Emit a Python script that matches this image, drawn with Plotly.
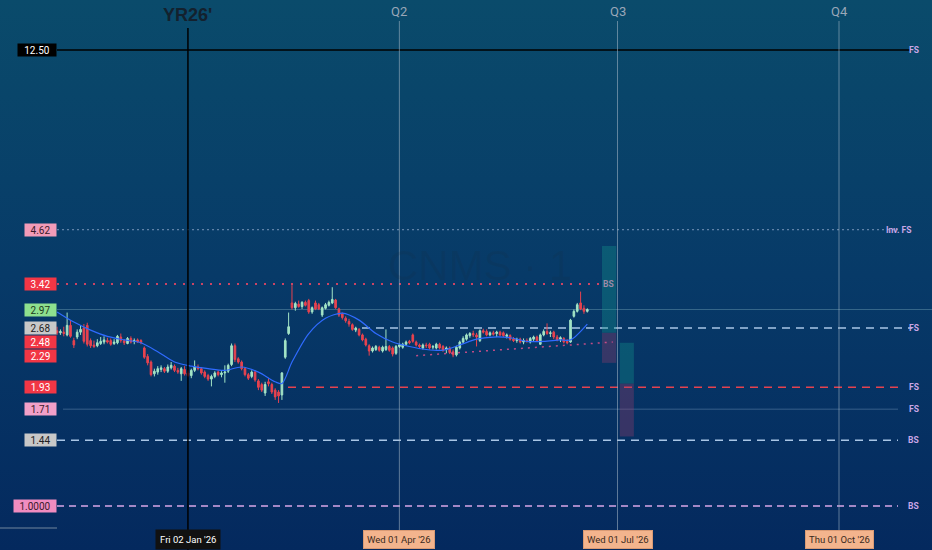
import base64
import numpy as np
import pandas as pd
import plotly.graph_objects as go

# daily bars (first bar Mon 10 Nov 2025)
first_bar = "2025-11-10"

opens = [2.64, 2.61, 2.62, 2.58, 2.72, 2.50, 2.55, 2.62, 2.68, 2.72,
         2.50, 2.44, 2.43, 2.46, 2.48, 2.50, 2.50, 2.46, 2.47, 2.55,
         2.50, 2.46, 2.53, 2.49, 2.51, 2.50, 2.40, 2.29, 2.22, 2.08,
         2.10, 2.13, 2.14, 2.11, 2.15, 2.17, 2.12, 2.08, 2.13, 2.09,
         2.06, 2.12, 2.16, 2.14, 2.10, 2.06, 2.02, 2.05, 2.10, 2.07,
         2.09, 2.11, 2.19, 2.43, 2.26, 2.22, 2.14, 2.07, 2.05, 2.10,
         2.00, 1.96, 1.87, 1.99, 1.96, 1.90, 1.88, 1.85, 2.28, 2.60,
         3.08, 3.00, 3.06, 3.02, 3.09, 3.12, 2.93, 3.08, 3.05, 2.88,
         2.99, 3.04, 3.08, 3.13, 2.98, 2.90, 2.83, 2.78, 2.73, 2.65,
         2.66, 2.58, 2.52, 2.43, 2.36, 2.38, 2.41, 2.36, 2.38, 2.42,
         2.40, 2.33, 2.42, 2.41, 2.45, 2.49, 2.58, 2.48, 2.44, 2.40,
         2.44, 2.45, 2.41, 2.40, 2.45, 2.42, 2.38, 2.40, 2.35, 2.31,
         2.40, 2.48, 2.52, 2.57, 2.60, 2.58, 2.50, 2.64, 2.63, 2.58,
         2.61, 2.60, 2.62, 2.61, 2.56, 2.57, 2.52, 2.50, 2.52, 2.48,
         2.50, 2.48, 2.52, 2.55, 2.45, 2.58, 2.63, 2.60, 2.62, 2.55,
         2.52, 2.53, 2.49, 2.48, 2.86, 2.94, 3.08, 2.99, 2.94]
highs = [2.70, 2.66, 2.70, 2.92, 2.80, 2.54, 2.66, 2.72, 2.74, 2.76,
         2.53, 2.50, 2.52, 2.55, 2.56, 2.54, 2.53, 2.52, 2.58, 2.60,
         2.52, 2.55, 2.56, 2.53, 2.53, 2.52, 2.42, 2.32, 2.24, 2.14,
         2.17, 2.18, 2.16, 2.19, 2.22, 2.19, 2.15, 2.16, 2.17, 2.12,
         2.14, 2.24, 2.19, 2.16, 2.12, 2.08, 2.07, 2.11, 2.12, 2.11,
         2.18, 2.20, 2.46, 2.46, 2.28, 2.24, 2.16, 2.09, 2.12, 2.12,
         2.02, 1.98, 1.99, 2.03, 1.98, 1.92, 1.90, 2.10, 2.53, 2.92,
         3.40, 3.10, 3.12, 3.11, 3.12, 3.15, 3.02, 3.12, 3.08, 3.02,
         3.08, 3.12, 3.36, 3.15, 3.00, 2.92, 2.86, 2.82, 2.75, 2.70,
         2.68, 2.60, 2.54, 2.45, 2.42, 2.44, 2.43, 2.43, 2.66, 2.44,
         2.42, 2.44, 2.46, 2.47, 2.50, 2.51, 2.60, 2.50, 2.46, 2.46,
         2.47, 2.47, 2.44, 2.47, 2.47, 2.44, 2.42, 2.42, 2.38, 2.43,
         2.50, 2.56, 2.60, 2.62, 2.64, 2.61, 2.66, 2.67, 2.66, 2.63,
         2.64, 2.64, 2.64, 2.63, 2.60, 2.59, 2.55, 2.54, 2.54, 2.53,
         2.53, 2.55, 2.57, 2.57, 2.60, 2.66, 2.75, 2.64, 2.64, 2.58,
         2.56, 2.55, 2.52, 2.82, 2.97, 3.08, 3.28, 3.04, 2.99]
lows = [2.58, 2.58, 2.56, 2.56, 2.54, 2.40, 2.52, 2.58, 2.46, 2.42,
        2.40, 2.40, 2.41, 2.44, 2.45, 2.46, 2.43, 2.44, 2.45, 2.47,
        2.44, 2.45, 2.46, 2.45, 2.47, 2.45, 2.26, 2.18, 2.05, 2.05,
        2.07, 2.10, 2.09, 2.09, 2.13, 2.10, 2.08, 2.00, 2.06, 2.04,
        2.03, 2.10, 2.12, 2.07, 2.03, 2.00, 1.94, 2.03, 2.05, 2.04,
        1.98, 2.09, 2.17, 2.22, 2.20, 2.12, 2.05, 2.01, 2.03, 1.99,
        1.90, 1.88, 1.84, 1.94, 1.86, 1.80, 1.77, 1.80, 2.26, 2.58,
        2.97, 2.95, 3.00, 2.98, 3.02, 2.90, 2.90, 2.96, 2.96, 2.85,
        2.97, 3.02, 3.06, 2.98, 2.85, 2.81, 2.76, 2.70, 2.64, 2.62,
        2.56, 2.49, 2.42, 2.30, 2.34, 2.36, 2.35, 2.34, 2.36, 2.35,
        2.29, 2.31, 2.40, 2.39, 2.43, 2.45, 2.47, 2.42, 2.40, 2.38,
        2.40, 2.38, 2.38, 2.38, 2.38, 2.35, 2.33, 2.32, 2.28, 2.29,
        2.38, 2.46, 2.50, 2.54, 2.55, 2.42, 2.48, 2.60, 2.56, 2.56,
        2.57, 2.55, 2.56, 2.55, 2.53, 2.50, 2.48, 2.47, 2.46, 2.45,
        2.47, 2.46, 2.49, 2.48, 2.44, 2.56, 2.58, 2.55, 2.52, 2.49,
        2.48, 2.46, 2.45, 2.47, 2.84, 2.92, 2.96, 2.90, 2.92]
closes = [2.61, 2.63, 2.60, 2.72, 2.56, 2.44, 2.62, 2.66, 2.49, 2.45,
          2.43, 2.42, 2.47, 2.49, 2.51, 2.48, 2.45, 2.48, 2.56, 2.50,
          2.47, 2.53, 2.48, 2.50, 2.48, 2.47, 2.28, 2.21, 2.07, 2.11,
          2.14, 2.15, 2.11, 2.16, 2.18, 2.12, 2.10, 2.14, 2.08, 2.06,
          2.12, 2.16, 2.14, 2.09, 2.05, 2.02, 2.05, 2.09, 2.07, 2.09,
          2.10, 2.18, 2.43, 2.25, 2.22, 2.14, 2.07, 2.03, 2.10, 2.01,
          1.93, 1.90, 1.96, 1.97, 1.88, 1.83, 1.84, 2.09, 2.50, 2.70,
          3.00, 3.07, 3.02, 3.09, 3.04, 2.93, 3.00, 2.98, 2.98, 3.00,
          3.05, 3.09, 3.14, 3.00, 2.88, 2.84, 2.79, 2.74, 2.66, 2.68,
          2.58, 2.51, 2.44, 2.36, 2.40, 2.42, 2.37, 2.41, 2.42, 2.37,
          2.32, 2.42, 2.44, 2.45, 2.48, 2.47, 2.49, 2.44, 2.42, 2.44,
          2.43, 2.40, 2.42, 2.45, 2.40, 2.37, 2.40, 2.34, 2.31, 2.41,
          2.48, 2.53, 2.58, 2.60, 2.58, 2.55, 2.64, 2.62, 2.58, 2.61,
          2.59, 2.62, 2.58, 2.57, 2.58, 2.52, 2.50, 2.52, 2.48, 2.50,
          2.49, 2.53, 2.55, 2.50, 2.58, 2.63, 2.60, 2.61, 2.55, 2.51,
          2.54, 2.48, 2.47, 2.80, 2.94, 3.05, 2.98, 2.94, 2.97]

# moving average, read at a handful of bars
ma_bars = [0, 5, 10, 15, 20, 25, 30, 35, 40, 45, 50, 55, 60, 65, 67, 70, 75,
           80, 85, 90, 95, 100, 105, 110, 115, 120, 125, 130, 135, 140, 145,
           150, 153, 158]
ma_values = [2.93, 2.77, 2.65, 2.56, 2.51, 2.47, 2.35, 2.22, 2.17, 2.14, 2.12,
             2.16, 2.10, 1.99, 1.97, 2.22, 2.60, 2.83, 2.91, 2.80, 2.60, 2.48,
             2.42, 2.38, 2.37, 2.44, 2.52, 2.55, 2.54, 2.49, 2.49, 2.51, 2.51,
             2.74]

# price levels drawn on the chart
level_values = [12.50, 4.62, 3.42, 2.97, 2.68, 2.48, 2.29, 1.93, 1.71, 1.44, 1.00]
level_labels = ["12.50", "4.62", "3.42", "2.97", "2.68", "2.48", "2.29",
                "1.93", "1.71", "1.44", "1.0000"]
level_tags = ["FS", "Inv. FS", "BS", "", "FS", "", "", "FS", "FS", "BS", "BS"]

# dotted trendline under the spring range
trend_dates = ["2026-04-08", "2026-06-29 14:00"]
trend_values = [2.30, 2.48]

# long / short position boxes: [top, entry, bottom]
box_dates = [["2026-06-24 09:00", "2026-06-30 15:00"],
             ["2026-07-01 16:00", "2026-07-07 21:00"]]
box_levels = [[4.22, 2.61, 2.21], [2.47, 1.97, 1.47]]

year_date = "2026-01-02"
year_name = "YR26'"
year_tag = "Fri 02 Jan '26"
quarter_dates = ["2026-04-01", "2026-07-01", "2026-10-01"]
quarter_names = ["Q2", "Q3", "Q4"]
quarter_tags = ["Wed 01 Apr '26", "Wed 01 Jul '26", "Thu 01 Oct '26"]

W, H = 932, 550
dates = pd.bdate_range(first_bar, periods=len(closes))

fig = go.Figure()

fig.add_trace(go.Candlestick(
    x=dates, open=opens, high=highs, low=lows, close=closes,
    increasing=dict(line=dict(color="#a3e4c6", width=1), fillcolor="#a3e4c6"),
    decreasing=dict(line=dict(color="#e8434f", width=1), fillcolor="#e8434f"),
    whiskerwidth=0, showlegend=False,
))

fig.add_trace(go.Scatter(
    x=dates[ma_bars], y=ma_values, mode="lines",
    line=dict(color="#2f6bff", width=1.2, shape="spline", smoothing=0.8),
    showlegend=False, hoverinfo="skip",
))

fig.add_trace(go.Scatter(
    x=trend_dates, y=trend_values, mode="lines",
    line=dict(color="rgba(225,80,140,0.85)", width=1.5, dash="2px,5px"),
    showlegend=False, hoverinfo="skip",
))

# gradient background as an inline svg
svg = ('<svg xmlns="http://www.w3.org/2000/svg" width="10" height="100" '
       'viewBox="0 0 10 100" preserveAspectRatio="none"><defs>'
       '<linearGradient id="g" x1="0" y1="0" x2="0" y2="1">'
       '<stop offset="0" stop-color="#0a4b6b"/>'
       '<stop offset="0.5" stop-color="#073a68"/>'
       '<stop offset="1" stop-color="#04295e"/>'
       '</linearGradient></defs><rect width="10" height="100" fill="url(#g)"/></svg>')
bg = "data:image/svg+xml;base64," + base64.b64encode(svg.encode()).decode()
fig.add_layout_image(source=bg, xref="paper", yref="paper", x=0, y=1,
                     sizex=1, sizey=1, sizing="stretch", layer="below")

px = lambda p: p / W  # pixel -> paper x
py = lambda p: (H - p) / H  # pixel -> paper y

# horizontal level lines: (x0 px, x1 px, colour, width, dash)
line_styles = [
    (57, 912, "#000000", 1.5, "solid"),
    (57, 898, "rgba(170,190,220,0.7)", 1, "2px,3px"),
    (57, 600, "rgba(226,70,100,0.9)", 2, "2px,7px"),
    (57, 932, "rgba(110,160,180,0.45)", 1, "solid"),
    (362, 912, "#a9c6e6", 1.5, "8px,6px"),
    None,
    None,
    (288, 898, "#e5424f", 1.5, "8px,6px"),
    (63, 898, "rgba(150,180,210,0.35)", 1, "solid"),
    (57, 898, "#a9c6e6", 1.5, "8px,6px"),
    (57, 898, "#d8a6e8", 1.5, "7px,5px"),
]
for v, st in zip(level_values, line_styles):
    if st is None:
        continue
    x0, x1, col, w, dash = st
    fig.add_shape(type="line", xref="paper", yref="y", x0=px(x0), x1=px(x1),
                  y0=v, y1=v, line=dict(color=col, width=w, dash=dash), layer="below")

# left price tags
tag_bg = ["#000000", "#f29bb8", "#f23645", "#8ee08e", "#c8c8c8", "#f23645",
          "#f23645", "#f23645", "#f2a0c8", "#c8c8c8", "#f08cc0"]
tag_fg = ["#ffffff", "#3a1a2a", "#ffffff", "#1b3a1b", "#222222", "#ffffff",
          "#ffffff", "#ffffff", "#3a1a2a", "#222222", "#3a1a2a"]
for v, lab, b, f in zip(level_values, level_labels, tag_bg, tag_fg):
    fig.add_annotation(x=px(57), xref="paper", xanchor="right", y=np.log10(v), yref="y",
                       yanchor="middle", text=lab, showarrow=False, bgcolor=b, borderpad=1,
                       width=40 if len(lab) > 5 else (36 if v > 10 else 29), height=10,
                       font=dict(family="Roboto", size=10, color=f))

# right side level names
for v, t in zip(level_values, level_tags):
    if not t:
        continue
    xpos = 608 if v == 3.42 else (913 if t == "Inv. FS" else 921)
    col = "#9c8aa8" if v == 3.42 else "#c9a6e6"
    fig.add_annotation(x=px(xpos), xref="paper", y=np.log10(v), yref="y", yanchor="middle",
                       text="<b>" + t + "</b>", showarrow=False,
                       font=dict(family="Roboto", size=8.5, color=col))

# position boxes
for (d0, d1), (top, mid, bot) in zip(box_dates, box_levels):
    fig.add_shape(type="rect", xref="x", yref="y", x0=d0, x1=d1, y0=mid, y1=top,
                  fillcolor="rgba(20,150,140,0.35)", line_width=0, layer="below")
    fig.add_shape(type="rect", xref="x", yref="y", x0=d0, x1=d1, y0=bot, y1=mid,
                  fillcolor="rgba(150,60,110,0.35)", line_width=0, layer="below")

# year and quarter markers
fig.add_shape(type="line", xref="x", yref="paper", x0=year_date, x1=year_date,
              y0=0, y1=py(28), line=dict(color="#000000", width=1.5))
fig.add_annotation(x=year_date, y=py(15), yref="paper", yanchor="middle",
                   text="<b>" + year_name + "</b>", showarrow=False,
                   font=dict(family="Liberation Sans", size=18, color="#13212e"))
fig.add_annotation(x=year_date, y=py(539), yref="paper", yanchor="middle", text=year_tag,
                   showarrow=False, bgcolor="#111111", borderpad=4,
                   font=dict(family="Roboto", size=9.5, color="#ffffff"))
for d, name, tag in zip(quarter_dates, quarter_names, quarter_tags):
    fig.add_shape(type="line", xref="x", yref="paper", x0=d, x1=d, y0=py(530), y1=py(21),
                  line=dict(color="rgba(170,185,200,0.55)", width=1), layer="below")
    fig.add_annotation(x=d, y=py(11), yref="paper", yanchor="middle", text=name,
                       showarrow=False, font=dict(family="Roboto", size=13, color="#9aa7b8"))
    fig.add_annotation(x=d, y=py(539), yref="paper", yanchor="middle", text=tag,
                       showarrow=False, bgcolor="#f3b48d", bordercolor="#d99a74",
                       borderwidth=1, borderpad=3,
                       font=dict(family="Roboto", size=9.5, color="#3a2a20"))

fig.add_shape(type="line", xref="paper", yref="paper", x0=0, x1=px(57), y0=py(528), y1=py(528),
              line=dict(color="rgba(150,165,180,0.5)", width=1.5))

# symbol watermark
fig.add_annotation(x=px(480), xref="paper", y=py(265), yref="paper", text="CNMS · 1",
                   showarrow=False, font=dict(family="Liberation Sans", size=42,
                                              color="rgba(25,45,65,0.16)"))

fig.update_layout(
    width=W, height=H,
    margin=dict(l=0, r=0, t=0, b=0),
    paper_bgcolor="#08386a",
    plot_bgcolor="rgba(0,0,0,0)",
    showlegend=False,
    xaxis=dict(type="date", range=["2025-10-16", "2026-11-09 17:00"],
               rangebreaks=[dict(bounds=["sat", "mon"])],
               rangeslider=dict(visible=False), showgrid=False, zeroline=False,
               showticklabels=False, showline=False),
    yaxis=dict(type="log", range=[-0.1058, 1.2173], showgrid=False, zeroline=False,
               showticklabels=False, showline=False),
)

# page margin off so the figure fills the window
fig.write_html("out.html", config={"displayModeBar": False},
               post_script="document.body.style.margin='0';document.body.style.overflow='hidden';")
